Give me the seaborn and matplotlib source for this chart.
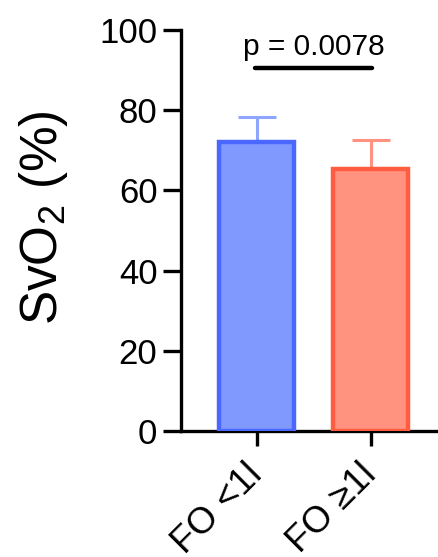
import matplotlib
matplotlib.use("Agg")
import matplotlib.pyplot as plt
import seaborn as sns
import pandas as pd

# Group means and upper error (SD) of mixed venous oxygen saturation
groups = ["FO <1l", "FO \u22651l"]
means = [72.0, 65.3]
sd_upper = [6.4, 7.3]
p_label = "p = 0.0078"

fill_colors = ["#8099FF", "#FF9380"]
edge_colors = ["#4A68FF", "#FF5C40"]
err_colors = ["#8FA6FF", "#FF9280"]

sns.set_theme(style="ticks")
plt.rcParams["font.family"] = ["Liberation Sans", "DejaVu Sans"]
plt.rcParams["mathtext.fontset"] = "custom"
plt.rcParams["mathtext.rm"] = "Liberation Sans"
plt.rcParams["mathtext.default"] = "regular"
plt.rcParams["text.color"] = "black"
plt.rcParams["axes.labelcolor"] = "black"
plt.rcParams["xtick.color"] = "black"
plt.rcParams["ytick.color"] = "black"

fig = plt.figure(figsize=(4.39, 5.57), dpi=100)
ax = fig.add_axes([181 / 439, 126 / 557, 1 - 181 / 439, 401 / 557])

df = pd.DataFrame({"group": groups, "svo2": means})
sns.barplot(data=df, x="group", y="svo2", hue="group", palette=fill_colors,
            saturation=1, width=0.66, errorbar=None, legend=False, ax=ax,
            zorder=3)
for patch, ec in zip(ax.patches, edge_colors):
    patch.set_edgecolor(ec)
    patch.set_linewidth(3.2)

for i, (m, e, c) in enumerate(zip(means, sd_upper, err_colors)):
    ax.errorbar(i, m, yerr=[[0], [e]], fmt="none", ecolor=c,
                elinewidth=2.2, capsize=14, capthick=2.2, zorder=2)

# significance bracket
ax.plot([-0.02, 1.01], [90.5, 90.5], color="black", lw=3.2,
        solid_capstyle="round", zorder=4, clip_on=False)
ax.text(0.5, 92.3, p_label, ha="center", va="bottom", fontsize=21.5)

ax.set_xlim(-0.667, 1.6)
ax.set_ylim(0, 100)
ax.set_yticks([0, 20, 40, 60, 80, 100])
ax.set_xlabel("")
ax.set_ylabel("SvO$_2$ (%)", fontsize=37)
ax.yaxis.set_label_coords(-0.43, 0.531)

sns.despine(ax=ax)
for side in ("left", "bottom"):
    ax.spines[side].set_linewidth(2.4)
    ax.spines[side].set_color("black")
ax.tick_params(axis="y", labelsize=25, length=13, width=2.4, color="black", pad=4)
ax.tick_params(axis="x", labelsize=26.5, length=11, width=2.4, color="black", pad=17)
plt.setp(ax.get_xticklabels(), rotation=45, ha="right", va="center",
         rotation_mode="anchor")

fig.savefig("out.png", dpi=100, facecolor="white")
